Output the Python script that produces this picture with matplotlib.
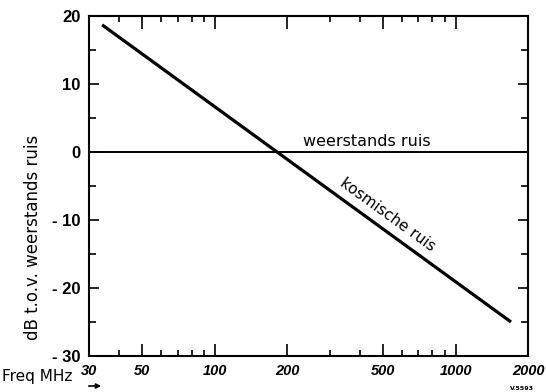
import matplotlib
matplotlib.use("Agg")
import matplotlib.pyplot as plt
from matplotlib.ticker import FixedLocator, NullFormatter

# ---- data ----
freq_kosmisch = [34, 1700]          # MHz
db_kosmisch = [18.7, -25.0]         # dB t.o.v. weerstands ruis
freq_weerstand = [30, 2000]
db_weerstand = [0.0, 0.0]

x_ticks = [30, 50, 100, 200, 500, 1000, 2000]
x_tick_labels = ["30", "50", "100", "200", "500", "1000", "2000"]
x_minor_ticks = [40, 60, 70, 80, 90, 300, 400, 600, 700, 800, 900]
y_ticks = [-30, -20, -10, 0, 10, 20]
y_tick_labels = ["- 30", "- 20", "- 10", "0", "10", "20"]
y_minor_ticks = [-25, -15, -5, 5, 15]

W, H = 546, 392
fig = plt.figure(figsize=(W / 100, H / 100), dpi=100)
ax = fig.add_axes([89 / W, 1 - 356 / H, (528 - 89) / W, (356 - 16) / H])

ax.plot(freq_weerstand, db_weerstand, color="black", lw=1.4, solid_capstyle="butt")
ax.plot(freq_kosmisch, db_kosmisch, color="black", lw=2.3, solid_capstyle="butt")

ax.set_xscale("log")
ax.set_xlim(30, 2000)
ax.set_ylim(-30, 20)

ax.xaxis.set_major_locator(FixedLocator(x_ticks))
ax.xaxis.set_minor_locator(FixedLocator(x_minor_ticks))
ax.set_xticklabels(x_tick_labels)
ax.xaxis.set_minor_formatter(NullFormatter())
ax.yaxis.set_major_locator(FixedLocator(y_ticks))
ax.yaxis.set_minor_locator(FixedLocator(y_minor_ticks))
ax.set_yticklabels(y_tick_labels)

for s in ax.spines.values():
    s.set_linewidth(1.5)

ax.tick_params(axis="both", which="both", direction="in", top=True, right=True,
               color="black", width=1.2)
ax.tick_params(axis="x", which="major", length=9, pad=6)
ax.tick_params(axis="x", which="minor", length=4.5)
ax.tick_params(axis="y", which="major", length=7.5, pad=6)
ax.tick_params(axis="y", which="minor", length=5)

for lab in ax.get_xticklabels():
    lab.set_fontfamily(["Liberation Sans", "DejaVu Sans"])
    lab.set_fontsize(10.5)
    lab.set_fontweight("bold")
    lab.set_fontstyle("italic")
for lab in ax.get_yticklabels():
    lab.set_fontfamily(["Liberation Sans", "DejaVu Sans"])
    lab.set_fontsize(12)
    lab.set_fontweight("bold")

# curve labels
ax.text(428, 0.45, "weerstands ruis", ha="center", va="bottom",
        fontsize=11.5, family="DejaVu Sans")
ax.text(520, -9.3, "kosmische ruis", ha="center", va="center",
        rotation=-36, rotation_mode="anchor", fontsize=11, family="DejaVu Sans")

# axis titles
fig.text(33 / W, 1 - 237 / H, "dB t.o.v. weerstands ruis", rotation=90,
         ha="center", va="center", fontsize=12, family="DejaVu Sans")
fig.text(2 / W, 1 - 377 / H, "Freq MHz", ha="left", va="center",
         fontsize=11, family="DejaVu Sans")
fig.text(522 / W, 1 - 388 / H, "V.5593", ha="center", va="center",
         fontsize=4.5, family="DejaVu Sans", fontweight="bold")
ax.annotate("", xy=(104 / W, 1 - 386 / H), xytext=(86 / W, 1 - 386 / H),
            xycoords="figure fraction", textcoords="figure fraction",
            arrowprops=dict(arrowstyle="-|>", color="black", lw=1.2,
                            mutation_scale=7))

fig.savefig("out.png", dpi=100, facecolor="white")
